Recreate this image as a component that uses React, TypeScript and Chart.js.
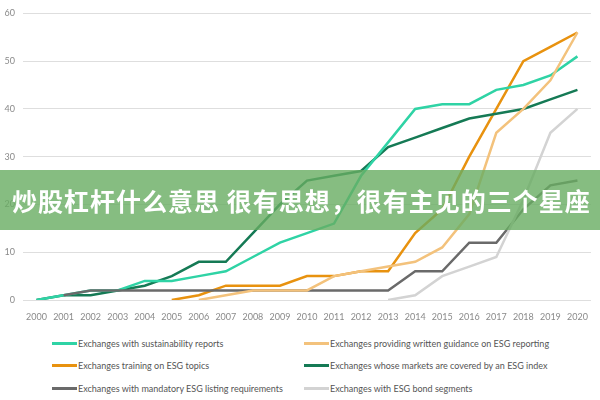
import React, { useEffect, useRef } from "react";
import { Chart, registerables } from "chart.js";

Chart.register(...registerables);

const years = ["2000","2001","2002","2003","2004","2005","2006","2007","2008","2009","2010","2011","2012","2013","2014","2015","2016","2017","2018","2019","2020"];

const sustainabilityReports = [0, 1, 2, 2, 4, 4, 5, 6, 9, 12, 14, 16, 26, 33, 40, 41, 41, 44, 45, 47, 51];
const writtenGuidance = [null, null, null, null, null, null, 0, 1, 2, 2, 2, 5, 6, 7, 8, 11, 18, 35, 40, 46, 56];
const trainingESG = [null, null, null, null, null, 0, 1, 3, 3, 3, 5, 5, 6, 6, 14, 19, 30, 40, 50, 53, 56];
const esgIndex = [0, 1, 1, 2, 3, 5, 8, 8, 14, 20, 25, 26, 27, 32, 34, 36, 38, 39, 40, 42, 44];
const mandatoryListing = [null, 1, 2, 2, 2, 2, 2, 2, 2, 2, 2, 2, 2, 2, 6, 6, 12, 12, 19, 24, 25];
const bondSegments = [null, null, null, null, null, null, null, null, null, null, null, null, null, 0, 1, 5, 7, 9, 21, 35, 40];

const yTicks = [0, 10, 20, 30, 40, 50, 60];

const seriesLabels = [
  "Exchanges with sustainability reports",
  "Exchanges providing written guidance on ESG reporting",
  "Exchanges training on ESG topics",
  "Exchanges whose markets are covered by an ESG index",
  "Exchanges with mandatory ESG listing requirements",
  "Exchanges with ESG bond segments",
];

const seriesColors = ["#2fd3a5", "#f3c27c", "#e8920f", "#157a55", "#6a6a6a", "#d3d3d3"];

const bannerText = "炒股杠杆什么意思 很有思想，很有主见的三个星座";

export default function App() {
  const ref = useRef<HTMLCanvasElement | null>(null);

  useEffect(() => {
    if (!ref.current) return;
    const dataArrays = [sustainabilityReports, writtenGuidance, trainingESG, esgIndex, mandatoryListing, bondSegments];
    const order = [5, 1, 4, 0, 3, 2];
    const chart = new Chart(ref.current, {
      type: "line",
      data: {
        labels: years,
        datasets: order.map((i) => ({
          label: seriesLabels[i],
          data: dataArrays[i],
          borderColor: seriesColors[i],
          backgroundColor: seriesColors[i],
          borderWidth: 2.5,
          pointRadius: 0,
          tension: 0,
          fill: false,
        })),
      },
      options: {
        responsive: false,
        animation: false,
        layout: { padding: { top: 12, right: 5, left: 0, bottom: 0 } },
        plugins: { legend: { display: false }, tooltip: { enabled: false } },
        scales: {
          x: {
            offset: true,
            grid: { display: false, drawTicks: false },
            border: { display: false },
            ticks: {
              color: "#8a8a8a",
              font: { family: "Lato", size: 9 },
              padding: 12,
              maxRotation: 0,
              autoSkip: false,
            },
            afterFit: (s: any) => { s.height = 30; },
          },
          y: {
            min: 0,
            max: 60,
            afterBuildTicks: (s: any) => { s.ticks = yTicks.map((v) => ({ value: v })); },
            grid: { color: "#dedede", lineWidth: 1, drawTicks: false },
            border: { display: false },
            ticks: {
              color: "#8a8a8a",
              font: { family: "Lato", size: 9 },
              padding: 8,
            },
            afterFit: (s: any) => { s.width = 23; },
          },
        },
      },
    });
    return () => chart.destroy();
  }, []);

  const legendRows = [
    [0, 1],
    [2, 3],
    [4, 5],
  ];

  return (
    <div style={{ position: "absolute", left: 0, top: 0, width: 600, height: 400, background: "#fff", overflow: "hidden" }}>
      <canvas ref={ref} width={600} height={330} style={{ position: "absolute", left: 0, top: 0 }} />
      {legendRows.map((row, r) =>
        row.map((idx, c) => (
          <div
            key={idx}
            style={{
              position: "absolute",
              left: c === 0 ? 52 : 304,
              top: 343 + r * 22.5 - 7,
              height: 14,
              display: "flex",
              alignItems: "center",
              fontFamily: "Lato, sans-serif",
              fontSize: 9,
              color: "#555",
              whiteSpace: "nowrap",
            }}
          >
            <span style={{ display: "inline-block", width: 25, height: 3, background: seriesColors[idx], marginRight: 1 }} />
            <span>{seriesLabels[idx]}</span>
          </div>
        ))
      )}
      <div
        style={{
          position: "absolute",
          left: 0,
          top: 170,
          width: 600,
          height: 60,
          background: "rgba(104,172,98,0.8)",
          display: "flex",
          alignItems: "center",
          paddingLeft: 12,
          boxSizing: "border-box",
          color: "#fff",
          fontFamily: "'Noto Sans CJK SC', sans-serif",
          fontWeight: 700,
          fontSize: 25,
          letterSpacing: 1,
          whiteSpace: "nowrap",
        }}
      >
        {bannerText}
      </div>
    </div>
  );
}
